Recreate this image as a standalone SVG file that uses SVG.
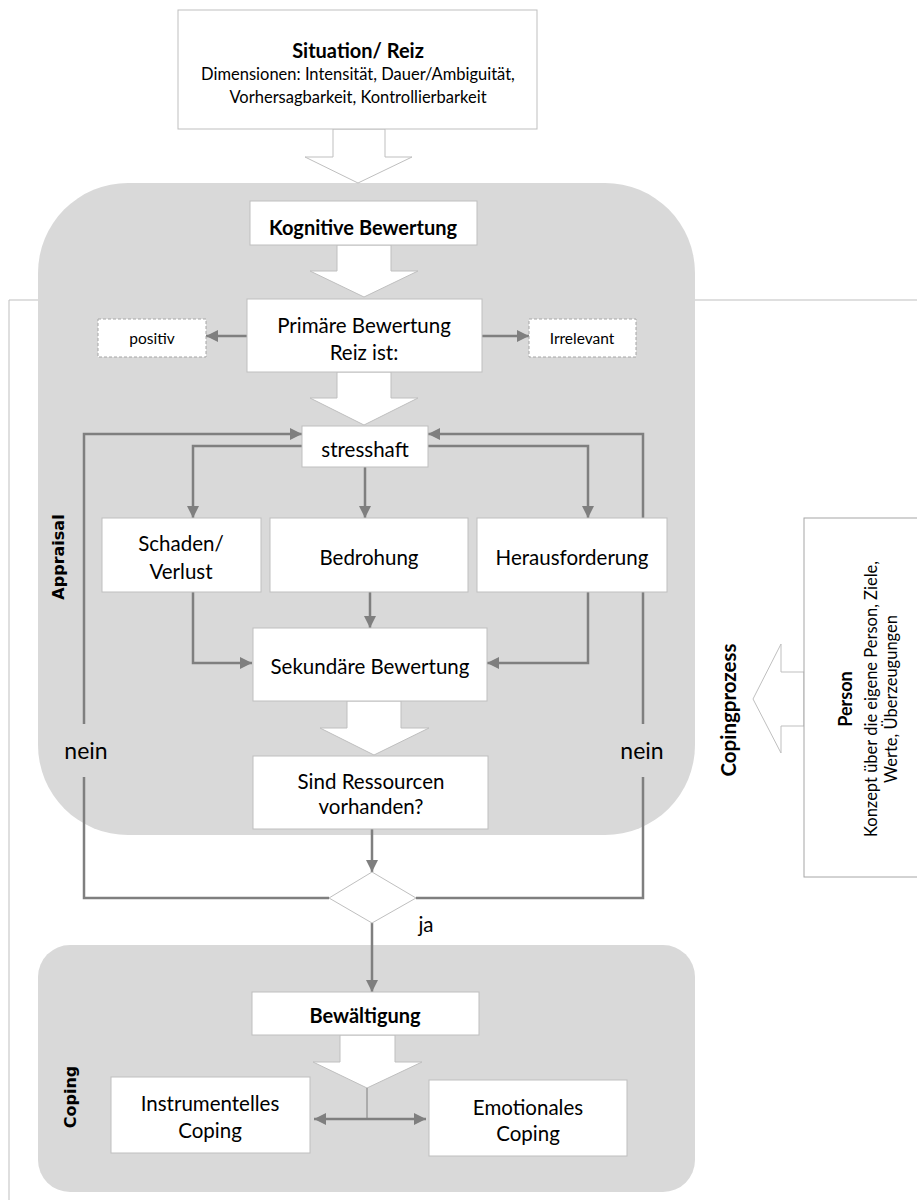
<svg xmlns="http://www.w3.org/2000/svg" width="917" height="1200" viewBox="0 0 917 1200">
<style>
.bg{fill:#d9d9d9}
.box{fill:#fff;stroke:#bfbfbf;stroke-width:1}
.dbox{fill:#fff;stroke:#a6a6a6;stroke-width:1;stroke-dasharray:3 2}
.pbox{fill:#fff;stroke:#a6a6a6;stroke-width:1}
.big{fill:#fff;stroke:#bfbfbf;stroke-width:1}
.con{fill:none;stroke:#7f7f7f;stroke-width:2.5}
.thin{fill:none;stroke:#7f7f7f;stroke-width:1}
.frame{fill:none;stroke:#bfbfbf;stroke-width:1}
text{font-family:Lato,"Liberation Sans",sans-serif;fill:#000;text-anchor:middle;dominant-baseline:central}
.t{font-size:20.5px}
.tb{font-size:20px;font-weight:bold}
.s{font-size:16.5px}
.xs{font-size:15.5px}
.n{font-size:23px}
.lab{font-family:"DejaVu Sans",Verdana,sans-serif;font-size:16px;font-weight:bold}
</style>
<defs>
<marker id="ah" markerUnits="userSpaceOnUse" markerWidth="12" markerHeight="12" refX="12" refY="6" orient="auto">
<path d="M0,0 L12,6 L0,12 z" fill="#7f7f7f"/>
</marker>
<marker id="ahs" markerUnits="userSpaceOnUse" markerWidth="12" markerHeight="12" refX="0" refY="6" orient="auto">
<path d="M12,0 L0,6 L12,12 z" fill="#7f7f7f"/>
</marker>
</defs>

<g id="backgrounds">
<path class="frame" d="M38,300 H9 V1200 M695,300 H917"/>
<rect id="appraisal-area" class="bg" x="38" y="183" width="657" height="652" rx="90" ry="90"/>
<rect id="coping-area" class="bg" x="38" y="945" width="657" height="247" rx="32" ry="32"/>
</g>

<g id="connectors">
<polygon class="big" points="333,129 385,129 385,157 412,157 358,183 305,157 333,157"/>
<polygon class="big" points="337,245 391,245 391,271 418,271 364,297 310,271 337,271"/>
<polygon class="big" points="337,372 391,372 391,398 418,398 364,425 310,398 337,398"/>
<polygon class="big" points="347,701 401,701 401,728 429,728 374,755 320,728 347,728"/>
<polygon class="big" points="340,1035 395,1035 395,1062 422,1062 367,1088 313,1062 340,1062"/>
<polygon class="big" points="804,672 781,672 781,644 753,699 781,753 781,726 804,726"/>
<path class="con" d="M247,336 H206" marker-end="url(#ah)"/>
<path class="con" d="M482,336 H529" marker-end="url(#ah)"/>
<path class="con" d="M84,724 V434 H302" marker-end="url(#ah)"/>
<path class="con" d="M329,898 H84 V777"/>
<path class="con" d="M643,724 V434 H428" marker-end="url(#ah)"/>
<path class="con" d="M416,898 H643 V777"/>
<path class="con" d="M302,446 H193 V518" marker-end="url(#ah)"/>
<path class="con" d="M365,467 V518" marker-end="url(#ah)"/>
<path class="con" d="M428,446 H588 V518" marker-end="url(#ah)"/>
<path class="con" d="M370,592 V628" marker-end="url(#ah)"/>
<path class="con" d="M193,592 V663 H252" marker-end="url(#ah)"/>
<path class="con" d="M588,592 V663 H487" marker-end="url(#ah)"/>
<path class="con" d="M372,829 V872" marker-end="url(#ah)"/>
<path class="con" d="M372,923 V992" marker-end="url(#ah)"/>
<path class="thin" d="M367,1088 V1119"/>
<path class="con" d="M314,1119 H426" marker-start="url(#ahs)" marker-end="url(#ah)"/>
</g>

<g id="situation">
<rect class="box" x="178" y="10" width="359" height="119"/>
<text class="tb" x="358" y="50">Situation/ Reiz</text>
<text class="s" x="358" y="74">Dimensionen: Intensität, Dauer/Ambiguität,</text>
<text class="s" x="358" y="97">Vorhersagbarkeit, Kontrollierbarkeit</text>
</g>
<g id="kognitive">
<rect class="box" x="250" y="201" width="227" height="44"/>
<text class="tb" x="363" y="227">Kognitive Bewertung</text>
</g>
<g id="primaer">
<rect class="box" x="247" y="299" width="235" height="73"/>
<text class="t" x="364" y="325">Primäre Bewertung</text>
<text class="t" x="364" y="352">Reiz ist:</text>
</g>
<g id="positiv">
<rect class="dbox" x="98" y="319" width="108" height="38"/>
<text class="xs" x="152" y="338">positiv</text>
</g>
<g id="irrelevant">
<rect class="dbox" x="529" y="319" width="107" height="38"/>
<text class="xs" x="582" y="338">Irrelevant</text>
</g>
<g id="stresshaft">
<rect class="box" x="302" y="426" width="126" height="41"/>
<text class="t" x="365" y="449">stresshaft</text>
</g>
<g id="schaden">
<rect class="box" x="102" y="518" width="159" height="74"/>
<text class="t" x="181" y="543">Schaden/</text>
<text class="t" x="181" y="571">Verlust</text>
</g>
<g id="bedrohung">
<rect class="box" x="270" y="518" width="198" height="74"/>
<text class="t" x="369" y="557">Bedrohung</text>
</g>
<g id="herausforderung">
<rect class="box" x="477" y="518" width="190" height="74"/>
<text class="t" x="572" y="557">Herausforderung</text>
</g>
<g id="sekundaer">
<rect class="box" x="253" y="628" width="234" height="73"/>
<text class="t" x="370" y="666">Sekundäre Bewertung</text>
</g>
<g id="ressourcen">
<rect class="box" x="253" y="756" width="235" height="73"/>
<text class="t" x="371" y="781">Sind Ressourcen</text>
<text class="t" x="371" y="806">vorhanden?</text>
</g>
<g id="entscheidung">
<polygon class="box" points="372,872 416,898 372,923 329,898"/>
<text class="t" x="426" y="924">ja</text>
</g>
<g id="nein-labels">
<text class="n" x="86" y="750">nein</text>
<text class="n" x="642" y="750">nein</text>
</g>
<g id="bewaeltigung">
<rect class="box" x="252" y="992" width="227" height="43"/>
<text class="tb" x="365" y="1015">Bewältigung</text>
</g>
<g id="instrumentell">
<rect class="box" x="111" y="1077" width="199" height="76"/>
<text class="t" x="210" y="1103">Instrumentelles</text>
<text class="t" x="210" y="1130">Coping</text>
</g>
<g id="emotional">
<rect class="box" x="429" y="1080" width="198" height="76"/>
<text class="t" x="528" y="1107">Emotionales</text>
<text class="t" x="528" y="1133">Coping</text>
</g>
<g id="person">
<rect class="pbox" x="804" y="518" width="130" height="359"/>
<text class="tb" style="font-size:18px" transform="translate(845,699) rotate(-90)">Person</text>
<text class="s" transform="translate(871,699) rotate(-90)">Konzept über die eigene Person, Ziele,</text>
<text class="s" transform="translate(891,699) rotate(-90)">Werte, Überzeugungen</text>
</g>
<g id="labels">
<text class="lab" transform="translate(58,557) rotate(-90)">Appraisal</text>
<text class="lab" transform="translate(70,1097) rotate(-90)">Coping</text>
<text class="tb" style="font-size:20.5px" transform="translate(728,710) rotate(-90)">Copingprozess</text>
</g>
</svg>
